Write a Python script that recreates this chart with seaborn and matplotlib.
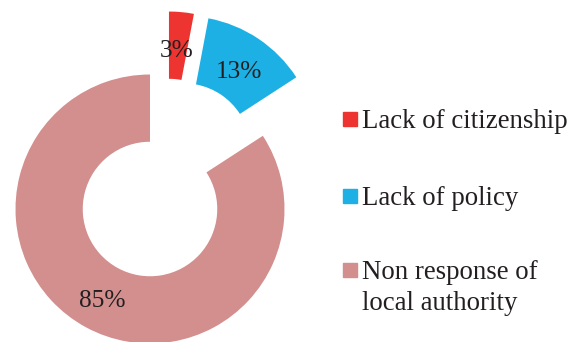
import matplotlib
matplotlib.use("Agg")
import matplotlib.pyplot as plt
from matplotlib.patches import Rectangle
import seaborn as sns

# Reasons reported
categories = ["Lack of citizenship", "Lack of policy", "Non response of\nlocal authority"]
shares = [3, 13, 85]
colors = ["#EE3430", "#1CB0E4", "#D38E8E"]

# how far each slice is pulled out of the ring (x, y, in radius units)
pull = [(0.141, 0.468), (0.249, 0.435), (0.0, 0.0)]

sns.set_theme(style="white")
plt.rcParams["font.family"] = ["Liberation Serif", "DejaVu Serif"]
text_color = "#231F20"

W, H = 572, 342
fig = plt.figure(figsize=(W / 100, H / 100), dpi=100)
ax = fig.add_axes([0, 0, 1, 1])

# donut geometry in pixels
cx, cy, R = 150, 209, 134.5

wedges, texts, autotexts = ax.pie(
    shares,
    colors=colors,
    startangle=90,
    counterclock=False,
    wedgeprops=dict(width=0.5, edgecolor="none"),
    autopct=lambda p: f"{p * sum(shares) / 100:.0f}%",
    pctdistance=0.74,
    textprops=dict(fontsize=18.3, color=text_color),
)
label_drop = 4.5 / R
for w, t, (dx, dy) in zip(wedges, autotexts, pull):
    w.set_center((dx, dy))
    x, y = t.get_position()
    t.set_position((x + dx, y + dy - label_drop))
x, y = autotexts[0].get_position()
autotexts[0].set_position((x - 2 / R, y))

ax.set_xlim(-cx / R, (W - cx) / R)
ax.set_ylim(-(H - cy) / R, cy / R)
ax.set_aspect("equal", adjustable="box")
ax.axis("off")

# legend on the right
baselines = [128, 205, 279]
line_gap = 31
for lab, col, base in zip(categories, colors, baselines):
    fig.patches.append(Rectangle((343 / W, 1 - (base - 2) / H), 14 / W, 14 / H,
                                 transform=fig.transFigure, color=col))
    for i, line in enumerate(lab.split("\n")):
        fig.text(362 / W, 1 - (base + i * line_gap) / H, line, fontsize=19.3,
                 color=text_color, va="baseline", ha="left")

fig.savefig("out.png", dpi=100)
